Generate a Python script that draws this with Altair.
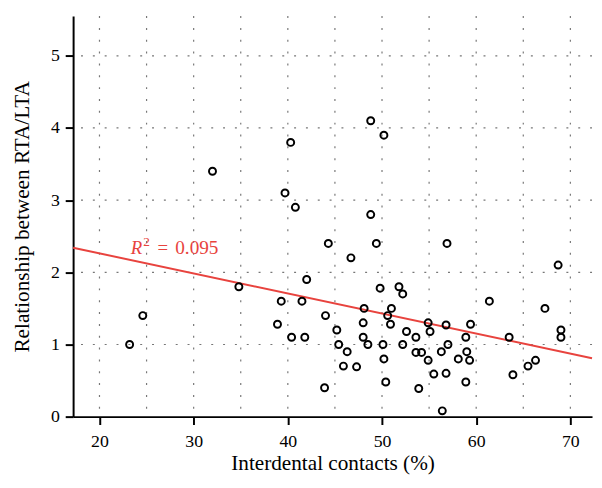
import altair as alt
import pandas as pd

# Interdental contacts (%) and RTA/LTA relationship
contacts = [23.2, 24.6, 32.0, 34.8, 38.9, 39.3, 39.7, 40.3, 40.4, 40.8,
            41.5, 41.8, 42.0, 43.9, 44.0, 44.3, 45.2, 45.4, 45.9, 46.3,
            46.7, 47.3, 48.0, 48.0, 48.1, 48.5, 48.8, 48.8, 49.4, 49.8,
            50.1, 50.2, 50.2, 50.4, 50.6, 50.9, 51.0, 51.8, 52.2, 52.2,
            52.6, 53.6, 53.6, 53.9, 54.2, 54.9, 54.9, 55.1, 55.5, 56.3,
            56.4, 56.8, 56.8, 56.9, 57.0, 58.1, 58.9, 58.9, 59.0, 59.3,
            59.4, 61.4, 63.5, 63.9, 65.5, 66.3, 67.3, 68.7, 69.0, 69.0]
ratio = [1.0, 1.4, 3.4, 1.8, 1.28, 1.6, 3.1, 3.8, 1.1, 2.9,
         1.6, 1.1, 1.9, 0.4, 1.4, 2.4, 1.2, 1.0, 0.7, 0.9,
         2.2, 0.69, 1.3, 1.1, 1.5, 1.0, 2.8, 4.1, 2.4, 1.78,
         1.0, 0.8, 3.9, 0.48, 1.4, 1.28, 1.5, 1.8, 1.7, 1.0,
         1.18, 1.1, 0.89, 0.39, 0.89, 1.3, 0.78, 1.18, 0.59, 0.9,
         0.08, 1.27, 0.6, 2.4, 1.0, 0.8, 1.1, 0.48, 0.9, 0.78,
         1.28, 1.6, 1.1, 0.58, 0.7, 0.78, 1.5, 2.1, 1.2, 1.1]

x_ticks = [20, 30, 40, 50, 60, 70]
x_grid = [20, 25, 30, 35, 40, 45, 50, 55, 60, 65, 70]
y_ticks = [0, 1, 2, 3, 4, 5]
y_grid = [1, 2, 3, 4, 5]
x_domain = [17.2, 72.3]
y_domain = [0, 5.55]

label_pos = {"x": 23.33, "y": 2.25}
r2_value = "0.095"

RED = "#e8433e"
FONT = "Liberation Serif"

df = pd.DataFrame({"x": contacts, "y": ratio})
xs = alt.Scale(domain=x_domain, nice=False, zero=False)
ys = alt.Scale(domain=y_domain, nice=False)

x_axis = alt.Axis(values=x_ticks, grid=False, tickSize=8, labelPadding=8,
                  labelFontSize=18, titlePadding=3)
y_axis = alt.Axis(values=y_ticks, grid=False, tickSize=8, labelPadding=6,
                  labelFontSize=18, titlePadding=17)
X_TITLE = "Interdental contacts (%)"
Y_TITLE = "Relationship between RTA/LTA"

grid_style = dict(color="#777777", strokeDash=[2, 10], strokeWidth=1.2)

vgrid = alt.Chart(pd.DataFrame({"g": x_grid})).mark_rule(**grid_style).encode(
    x=alt.X("g:Q", scale=xs, axis=x_axis, title=X_TITLE))

hgrid = alt.Chart(pd.DataFrame({"g": y_grid})).mark_rule(**grid_style).encode(
    y=alt.Y("g:Q", scale=ys, axis=y_axis, title=Y_TITLE))

base = alt.Chart(df)
enc = dict(x=alt.X("x:Q", scale=xs, axis=x_axis, title=X_TITLE),
           y=alt.Y("y:Q", scale=ys, axis=y_axis, title=Y_TITLE))

fit = base.transform_regression("x", "y", extent=x_domain).mark_line(
    color=RED, strokeWidth=2
).encode(**enc)

points = base.mark_point(
    shape="circle", filled=False, color="black", strokeWidth=2, size=50, opacity=1
).encode(**enc)

lab = pd.DataFrame([label_pos])
r_txt = alt.Chart(lab).mark_text(
    text="R", font=FONT, fontSize=19, fontStyle="italic", color=RED,
    align="left", baseline="alphabetic"
).encode(**enc)
sup_txt = alt.Chart(lab).mark_text(
    text="2", font=FONT, fontSize=13.5, color=RED, align="left",
    baseline="alphabetic", dx=12.5, dy=-8
).encode(**enc)
eq_txt = alt.Chart(lab).mark_text(
    text="=", font=FONT, fontSize=19, color=RED, align="left",
    baseline="alphabetic", dx=27
).encode(**enc)
val_txt = alt.Chart(lab).mark_text(
    text=r2_value, font=FONT, fontSize=19.5, color=RED, align="left",
    baseline="alphabetic", dx=45
).encode(**enc)

chart = alt.layer(vgrid, hgrid, fit, points, r_txt, sup_txt, eq_txt, val_txt).properties(
    width=526, height=406,
    autosize=alt.AutoSizeParams(type="none"),
    padding={"left": 66, "top": 5, "right": 2, "bottom": 60},
).configure_view(stroke=None).configure_axis(
    domainColor="black", domainWidth=2, tickColor="black", tickWidth=2,
    labelFont=FONT, labelColor="black",
    titleFont=FONT, titleFontSize=21.5, titleFontWeight="normal", titleColor="black",
)

chart.save("out.html", embed_options={"renderer": "svg", "actions": False})
